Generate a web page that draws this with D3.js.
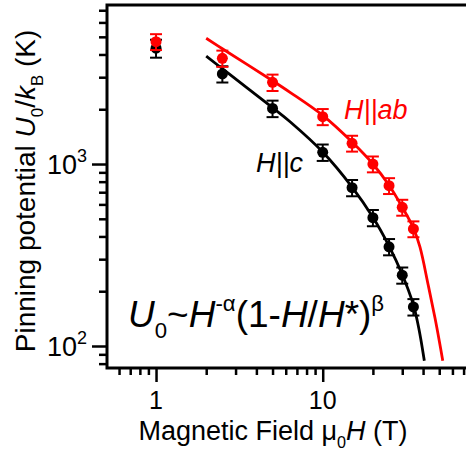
<!DOCTYPE html>
<html>
<head>
<meta charset="utf-8">
<script src="https://cdn.jsdelivr.net/npm/d3@7"></script>
<style>
  body { margin: 0; background: #fff; }
  text { font-family: "Liberation Sans", Arial, sans-serif; }
</style>
</head>
<body>
<div id="chart"></div>
<script>
// data
// H || ab (red)
const fieldAB = [1, 2.5, 5, 10, 15, 20, 25, 30, 35]
const u0AB = [4700, 3810, 2810, 1820, 1300, 1000, 760, 578, 440]
const errAB = [470, 390, 290, 185, 130, 100, 76, 58, 44]
// H || c (black)
const fieldC = [1, 2.5, 5, 10, 15, 20, 25, 30, 35]
const u0C = [4330, 3125, 2020, 1160, 741, 507, 351, 245, 164]
const errC = [490, 320, 210, 120, 76, 52, 36, 25, 17]

// fit curves, points
const fitFieldAB = [2, 2.5, 5, 6.4, 10, 15, 20, 25, 30, 35, 38.3, 43, 47.2, 50.1, 52.5]
const fitU0AB = [4910, 4300, 2870, 2470, 1850, 1320, 1000, 765, 580, 445, 350, 215, 142, 106, 83]
const fitFieldC = [2, 2.5, 5, 6.37, 10, 15, 20, 25, 30, 35, 37.2, 38.7, 40.7]
const fitU0C = [3920, 3340, 2040, 1707, 1164, 747, 510, 354, 247, 168, 133, 110, 83]

// ticks
const xMajor = [1, 10]
const xMinor = [0.6, 0.7, 0.8, 0.9, 2, 3, 4, 5, 6, 7, 8, 9, 20, 30, 40, 50, 60, 70]
const yMajor = [100, 1000]
const yMinor = [80, 90, 200, 300, 400, 500, 600, 700, 800, 900, 2000, 3000, 4000, 5000, 6000, 7000]
const yTickLabels = [['10', '2'], ['10', '3']]

const svg_width = 466
const svg_height = 456
const plot = { left: 107, right: 468, top: 5, bottom: 368 }

const svg = d3.select('#chart').append('svg')
    .attr('width', svg_width).attr('height', svg_height)

const xScale = d3.scaleLog().domain([0.508, 74.4]).range([plot.left, plot.right])
const yScale = d3.scaleLog().domain([75.7, 7480]).range([plot.bottom, plot.top])

// axes
const axisStroke = 3
function styleAxis(g) {
    g.select('.domain').remove()
    g.selectAll('.tick line').attr('stroke', '#000').attr('stroke-width', 2.5)
    g.selectAll('.tick text').remove()
}

svg.append('g').attr('transform', `translate(0,${plot.bottom})`)
    .call(d3.axisBottom(xScale).tickValues(xMinor).tickSize(7)).call(styleAxis)
svg.append('g').attr('transform', `translate(0,${plot.bottom})`)
    .call(d3.axisBottom(xScale).tickValues(xMajor).tickSize(14)).call(styleAxis)
svg.append('g').attr('transform', `translate(${plot.left},0)`)
    .call(d3.axisLeft(yScale).tickValues(yMinor).tickSize(8)).call(styleAxis)
svg.append('g').attr('transform', `translate(${plot.left},0)`)
    .call(d3.axisLeft(yScale).tickValues(yMajor).tickSize(15)).call(styleAxis)

// frame: left, bottom, top
svg.append('path')
    .attr('d', `M${plot.right},${plot.top}H${plot.left}V${plot.bottom}H${plot.right}`)
    .attr('fill', 'none').attr('stroke', '#000').attr('stroke-width', axisStroke)

// tick labels
svg.selectAll('.xlab').data(xMajor).enter().append('text')
    .attr('x', d => xScale(d)).attr('y', 409)
    .attr('text-anchor', 'middle').attr('font-size', 25)
    .text(d => d)

yMajor.forEach((v, i) => {
    const t = svg.append('text')
        .attr('x', 87).attr('y', yScale(v) + 10)
        .attr('text-anchor', 'end').attr('font-size', 27)
    t.append('tspan').text(yTickLabels[i][0])
    t.append('tspan').attr('font-size', 18).attr('dy', -12).text(yTickLabels[i][1])
})

// rich text helper
function richText(sel, parts, size) {
    parts.forEach(p => {
        const ts = sel.append('tspan').text(p.t)
        if (p.i) ts.attr('font-style', 'italic')
        if (p.sub) ts.attr('font-size', size * 0.6).attr('dy', size * 0.3)
        if (p.sup) ts.attr('font-size', size * 0.6).attr('dy', -size * 0.42)
        if (p.back) ts.attr('dy', p.back)
    })
}

// x title
const xTitle = svg.append('text')
    .attr('x', 273).attr('y', 440).attr('text-anchor', 'middle').attr('font-size', 27)
richText(xTitle, [
    { t: 'Magnetic Field μ' },
    { t: '0', sub: true },
    { t: 'H', i: true, back: -8.1 },
    { t: ' (T)' }
], 27)

// y title
const yTitle = svg.append('text')
    .attr('transform', 'translate(35,191) rotate(-90)')
    .attr('text-anchor', 'middle').attr('font-size', 28)
richText(yTitle, [
    { t: 'Pinning potential ' },
    { t: 'U', i: true },
    { t: '0', sub: true },
    { t: '/', back: -8.4 },
    { t: 'k', i: true },
    { t: 'B', sub: true },
    { t: ' (K)', back: -8.4 }
], 28)

// fit curves
const line = d3.line().x(d => xScale(d[0])).y(d => yScale(d[1])).curve(d3.curveCatmullRom.alpha(0.5))
svg.append('path').datum(d3.zip(fitFieldC, fitU0C))
    .attr('d', line).attr('fill', 'none').attr('stroke', '#000').attr('stroke-width', 2.8)
svg.append('path').datum(d3.zip(fitFieldAB, fitU0AB))
    .attr('d', line).attr('fill', 'none').attr('stroke', '#ff0000').attr('stroke-width', 2.8)

// points with error bars
function drawSeries(field, u0, err, color, cls) {
    const data = field.map((f, i) => ({ f, u: u0[i], e: err[i] }))
    const g = svg.append('g').attr('class', cls)
    g.selectAll('circle').data(data).enter().append('circle')
        .attr('cx', d => xScale(d.f)).attr('cy', d => yScale(d.u))
        .attr('r', 5.5).attr('fill', color)
    const bars = g.selectAll('.err').data(data).enter().append('g').attr('class', 'err')
        .attr('stroke', color).attr('stroke-width', 2)
    bars.append('line')
        .attr('x1', d => xScale(d.f)).attr('x2', d => xScale(d.f))
        .attr('y1', d => yScale(d.u + d.e)).attr('y2', d => yScale(d.u - d.e))
    bars.append('line')
        .attr('x1', d => xScale(d.f) - 6).attr('x2', d => xScale(d.f) + 6)
        .attr('y1', d => yScale(d.u + d.e)).attr('y2', d => yScale(d.u + d.e))
    bars.append('line')
        .attr('x1', d => xScale(d.f) - 6).attr('x2', d => xScale(d.f) + 6)
        .attr('y1', d => yScale(d.u - d.e)).attr('y2', d => yScale(d.u - d.e))
}
drawSeries(fieldC, u0C, errC, '#000', 'series-c')
drawSeries(fieldAB, u0AB, errAB, '#ff0000', 'series-ab')

// labels
svg.append('text').attr('x', 344).attr('y', 119)
    .attr('font-size', 27).attr('font-style', 'italic').attr('fill', '#ff0000')
    .text('H||ab')
svg.append('text').attr('x', 256).attr('y', 172)
    .attr('font-size', 27).attr('font-style', 'italic').attr('fill', '#000')
    .text('H||c')

const formula = svg.append('text').attr('x', 128).attr('y', 327).attr('font-size', 37)
richText(formula, [
    { t: 'U', i: true },
    { t: '0', sub: true },
    { t: '~', back: -11.1 },
    { t: 'H', i: true },
    { t: '-α', sup: true },
    { t: '(1-', back: 15.5 },
    { t: 'H', i: true },
    { t: '/' },
    { t: 'H', i: true },
    { t: '*)' },
    { t: 'β', sup: true }
], 37)
</script>
</body>
</html>
